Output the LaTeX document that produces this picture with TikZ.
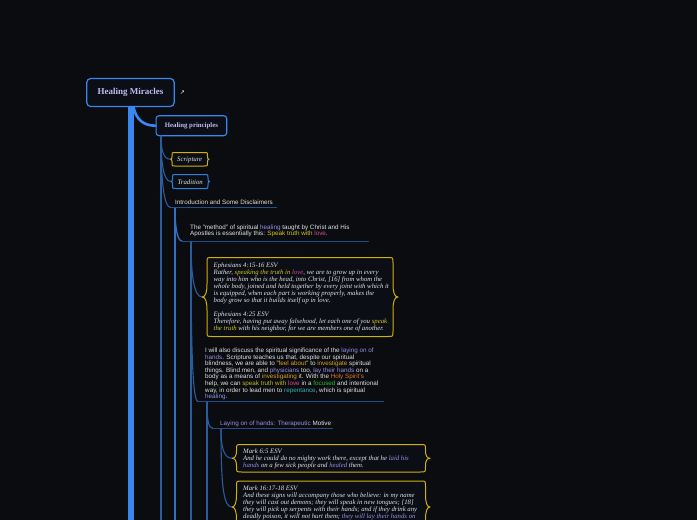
\documentclass[tikz,border=0pt]{standalone}
\usepackage{fontspec}
\setmainfont{Liberation Serif}
\setsansfont{Liberation Sans}
\newfontfamily\dejavu{DejaVu Sans}
\definecolor{bg}{HTML}{0A0C10}
\definecolor{boxbg}{HTML}{0B0E14}
\definecolor{txt}{HTML}{E2E2E2}
\definecolor{titlec}{HTML}{C2BBF3}
\definecolor{rootblue}{HTML}{3B87F0}
\definecolor{lineblue}{HTML}{2A5C9E}
\definecolor{linebright}{HTML}{3170C8}
\definecolor{ulblue}{HTML}{1F4E8E}
\definecolor{ybord}{HTML}{D4AE0A}
\definecolor{tblue}{HTML}{2C80D8}
\definecolor{lav}{HTML}{9790E6}
\definecolor{yel}{HTML}{D8C61E}
\definecolor{pink}{HTML}{D24C98}
\definecolor{orng}{HTML}{DCA024}
\definecolor{orng2}{HTML}{E07A28}
\definecolor{olive}{HTML}{BDBA22}
\definecolor{grn}{HTML}{2CBC2C}
\definecolor{tealc}{HTML}{2CB2B2}
\tikzset{
  sans/.style={font=\sffamily\fontsize{6.3}{7}\selectfont, text=txt, inner sep=0pt, anchor=base west},
  ital/.style={font=\itshape\fontsize{6.75}{7}\selectfont, text=txt, inner sep=0pt, anchor=base west},
  rootbox/.style={draw=rootblue, line width=1.2pt, rounded corners=4pt, fill=boxbg,
     font=\bfseries\fontsize{9}{10}\selectfont, text=titlec, minimum width=87.5pt, minimum height=28pt, inner sep=0pt},
  hpbox/.style={draw=rootblue, line width=1.1pt, rounded corners=3pt, fill=boxbg,
     font=\bfseries\fontsize{6.8}{8}\selectfont, text=titlec, minimum width=70.7pt, minimum height=20pt, inner sep=0pt},
  smalltxt/.style={font=\itshape\fontsize{6.8}{8}\selectfont, text=txt, inner sep=0pt},
  branch/.style={draw=lineblue, line width=1.1pt},
  brightbranch/.style={draw=linebright, line width=1.3pt},
  uline/.style={draw=ulblue, line width=1pt},
  rootline/.style={draw=rootblue, line width=5.7pt},
}
\newcommand\bracebox[7]{%
 \pgfmathsetmacro\bbym{(#3+#5)/2}%
 \pgfmathsetmacro\bbr{min(5,(#5-#3)/4)}%
 \pgfmathsetmacro\bbh{min(13,(#5-#3)/2-\bbr-1)}%
 \pgfmathsetmacro\bbk{\bbh*0.35}%
 \draw[draw=#6, line width=1pt, fill=boxbg, line join=round]
  (#2+\bbr,#3) -- (#4-\bbr,#3) .. controls (#4,#3) .. (#4,#3+\bbr)
  -- (#4,\bbym-\bbh) .. controls (#4,\bbym-\bbk) and (#4+#7*0.3,\bbym) .. (#4+#7,\bbym)
  .. controls (#4+#7*0.3,\bbym) and (#4,\bbym+\bbk) .. (#4,\bbym+\bbh)
  -- (#4,#5-\bbr) .. controls (#4,#5) .. (#4-\bbr,#5)
  -- (#2+\bbr,#5) .. controls (#2,#5) .. (#2,#5-\bbr)
  -- (#2,\bbym+\bbh) .. controls (#2,\bbym+\bbk) and (#2-#7*0.3,\bbym) .. (#2-#7,\bbym)
  .. controls (#2-#7*0.3,\bbym) and (#2,\bbym-\bbk) .. (#2,\bbym-\bbh)
  -- (#2,#3+\bbr) .. controls (#2,#3) .. (#2+\bbr,#3) -- cycle;
 \coordinate (#1-w) at (#2-#7,\bbym);
 \coordinate (#1-e) at (#4+#7,\bbym);
}
\begin{document}
\begin{tikzpicture}[x=1pt,y=-1pt]
\useasboundingbox (0,0) rectangle (697,520);
\fill[bg] (0,0) rectangle (697,520);
\begin{scope}
\clip (0,0) rectangle (697,520);
% ---------- coordinates for connector ends ----------
\coordinate (rtop) at (131,106);
\coordinate (rend) at (131,530);
\coordinate (rc) at (133.5,107);
\coordinate (hpB) at (161,135.5);
\coordinate (hpEnd) at (161,530);
\coordinate (inL) at (171,207.7);
\coordinate (inR) at (277,207.7);
\coordinate (inB) at (175,208);
\coordinate (inEnd) at (175,530);
\coordinate (mL) at (182,241);
\coordinate (mR) at (369,241);
\coordinate (mB) at (191,241.5);
\coordinate (mEnd) at (191,530);
\coordinate (iL) at (198,401.5);
\coordinate (iR) at (384,401.5);
\coordinate (iB) at (207,402);
\coordinate (iEnd) at (207,530);
\coordinate (lL) at (213,428.5);
\coordinate (lR) at (333,428.5);
\coordinate (lB) at (221,429);
% ---------- vertical lines ----------
\draw[rootline] (rtop) -- (rend);
\draw[branch] (hpB) -- (hpEnd);
\draw[brightbranch] (inB) -- (inEnd);
\draw[branch] (mB) -- (mEnd);
\draw[branch] (iB) -- (iEnd);
% ---------- boxes ----------
\node[rootbox] (root) at (130.5,92.5) {Healing Miracles};
\node (icon) [font=\dejavu\fontsize{6}{6}\selectfont, text=white, inner sep=0pt] at (182.5,93) {↗};
\node[hpbox] (hp) at (191.4,125.7) {Healing principles};
\draw[draw=rootblue, line width=2.6pt, line cap=round] (rc) .. controls (136,119) and (143,125.7) .. (hp.west);
\bracebox{scr}{172}{152.5}{207.5}{166}{ybord}{1.6}
\node[smalltxt] (scrt) at (189.7,159.6) {Scripture};
\bracebox{tra}{172.5}{174.5}{208}{188.5}{tblue}{1.6}
\node[smalltxt] (trat) at (190.2,181.8) {Tradition};
\draw[branch] (hpB) .. controls (161,149) and (163,159.2) .. (scr-w);
\draw[branch] (hpB) .. controls (161,161) and (163,181.5) .. (tra-w);
\draw[branch] (hpB) .. controls (161,175) and (163,207.7) .. (inL);
\draw[uline] (inL) -- (inR);
\node[sans] (intro) at (175,204) {Introduction and Some Disclaimers};
% method
\draw[brightbranch] (inB) .. controls (175,226) and (177,241) .. (mL);
\draw[uline] (mL) -- (mR);
\node[sans] (m1) at (190,229.2) {The "method" of spiritual \textcolor{lav}{healing} taught by Christ and His};
\node[sans] (m2) at (190,235.8) {Apostles is essentially this: \textcolor{yel}{Speak truth with} \textcolor{pink}{love}.};
% Ephesians
\bracebox{eph}{207}{257.5}{393}{336.5}{ybord}{5}
\draw[branch] (mB) .. controls (191,275) and (194,297) .. (eph-w);
\node[ital] (e1) at (213.5,267.5) {Ephesians 4:15-16 ESV};
\node[ital] (e2) at (213.5,274.5) {Rather, \textcolor{yel}{speaking the truth in} \textcolor{pink}{love}, we are to grow up in every};
\node[ital] (e3) at (213.5,281.5) {way into him who is the head, into Christ, [16] from whom the};
\node[ital] (e4) at (213.5,288.5) {whole body, joined and held together by every joint with which it};
\node[ital] (e5) at (213.5,295.5) {is equipped, when each part is working properly, makes the};
\node[ital] (e6) at (213.5,302.5) {body grow so that it builds itself up in love.};
\node[ital] (e7) at (213.5,316.5) {Ephesians 4:25 ESV};
\node[ital] (e8) at (213.5,323.5) {Therefore, having put away falsehood, let each one of you \textcolor{yel}{speak}};
\node[ital] (e9) at (213.5,330.5) {\textcolor{yel}{the truth} with his neighbor, for we are members one of another.};
% I will also discuss
\draw[branch] (mB) .. controls (191,335) and (192,401.5) .. (iL);
\draw[uline] (iL) -- (iR);
\node[sans] (i1) at (205,352.5) {I will also discuss the spiritual significance of the \textcolor{lav}{laying on of}};
\node[sans] (i2) at (205,359.1) {\textcolor{lav}{hands}. Scripture teaches us that, despite our spiritual};
\node[sans] (i3) at (205,365.7) {blindness, we are able to "\textcolor{orng}{feel about}" to \textcolor{orng}{investigate} spiritual};
\node[sans] (i4) at (205,372.3) {things. Blind men, and \textcolor{lav}{physicians} too, \textcolor{lav}{lay their hands} on a};
\node[sans] (i5) at (205,378.9) {body as a means of \textcolor{orng}{investigating} it. With the \textcolor{orng2}{Holy Spirit's}};
\node[sans] (i6) at (205,385.5) {help, we can \textcolor{olive}{speak truth with} \textcolor{pink}{love} in a \textcolor{grn}{focused} and intentional};
\node[sans] (i7) at (205,392.1) {way, in order to lead men to \textcolor{tealc}{repentance}, which is spiritual};
\node[sans] (i8) at (205,398.7) {\textcolor{lav}{healing}.};
% Laying on of hands
\draw[branch] (iB) .. controls (207,418) and (208,428.5) .. (lL);
\draw[uline] (lL) -- (lR);
\node[sans] (lay) at (220,425.2) {\textcolor{lav}{Laying on of hands: Therapeutic} Motive};
% Mark 6:5
\bracebox{mk}{236.5}{444.5}{425.5}{472}{ybord}{4.5}
\draw[branch] (lB) .. controls (221,448) and (224,458.2) .. (mk-w);
\node[ital] (k1) at (243,453) {Mark 6:5 ESV};
\node[ital] (k2) at (243,460) {And he could do no mighty work there, except that he \textcolor{lav}{laid his}};
\node[ital] (k3) at (243,467) {\textcolor{lav}{hands} on a few sick people and \textcolor{lav}{healed} them.};
% Mark 16:17-18
\bracebox{ms}{236.5}{481}{425.5}{533}{ybord}{4.5}
\draw[branch] (lB) .. controls (221,490) and (224,507) .. (ms-w);
\node[ital] (s1) at (243,490) {Mark 16:17-18 ESV};
\node[ital] (s2) at (243,497) {And these signs will accompany those who believe: in my name};
\node[ital] (s3) at (243,504) {they will cast out demons; they will speak in new tongues; [18]};
\node[ital] (s4) at (243,511) {they will pick up serpents with their hands; and if they drink any};
\node[ital] (s5) at (243,518) {deadly poison, it will not hurt them; \textcolor{lav}{they will lay their hands on}};
\end{scope}
\end{tikzpicture}
\end{document}
